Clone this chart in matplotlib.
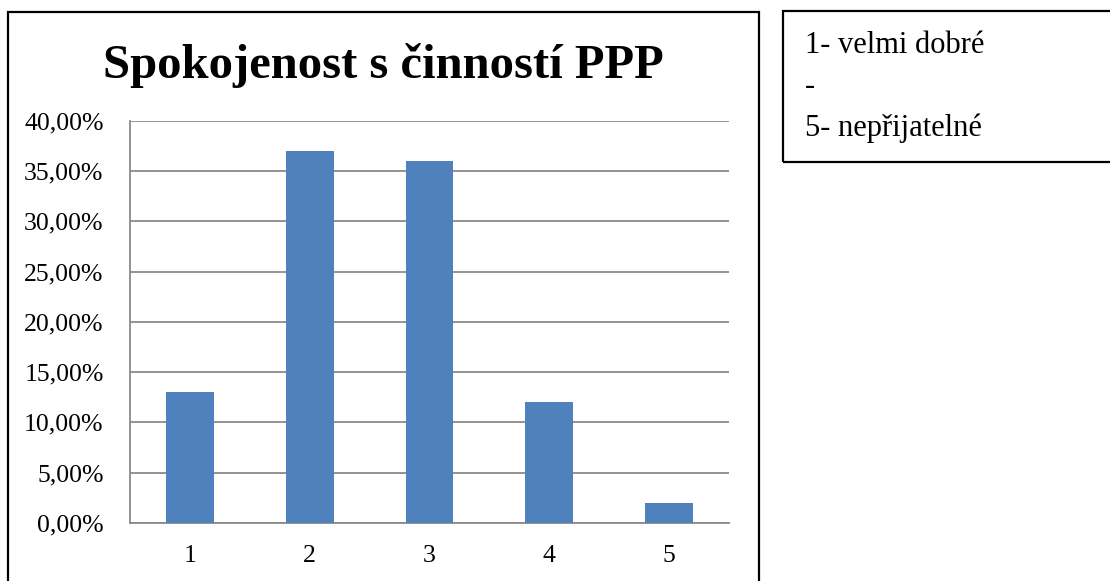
import numpy as np
import matplotlib
matplotlib.use("Agg")
import matplotlib.pyplot as plt
from matplotlib.patches import Rectangle
from matplotlib.ticker import FuncFormatter

categories = ["1", "2", "3", "4", "5"]
shares = [0.13, 0.37, 0.36, 0.12, 0.02]
title = "Spokojenost s činností PPP"
note_lines = ["1- velmi dobré", "-", "5- nepřijatelné"]

plt.rcParams["font.family"] = ["Liberation Serif", "DejaVu Serif"]

W, H = 1110, 581
fig = plt.figure(figsize=(W / 100, H / 100), dpi=100)

# plot area in pixel terms
left, right, top, bottom = 130, 729, 120.7, 523
ax = fig.add_axes([left / W, 1 - bottom / H, (right - left) / W, (bottom - top) / H])

x = np.arange(1, len(categories) + 1)
ax.bar(x, shares, width=0.4, color="#4F81BD", zorder=3)

ax.set_xlim(0.5, 5.5)
ax.set_ylim(0, 0.40)
ax.set_xticks(x)
ax.set_xticklabels(categories)
ax.set_yticks(np.arange(0, 0.401, 0.05))
ax.yaxis.set_major_formatter(FuncFormatter(lambda v, p: f"{v * 100:.2f}%".replace(".", ",")))
ax.tick_params(axis="both", length=0, labelsize=18.5, colors="black")
ax.tick_params(axis="y", pad=19)
ax.tick_params(axis="x", pad=16)

ax.yaxis.grid(True, color="#8a8a8a", linewidth=1.3, zorder=0)
ax.set_axisbelow(True)
for s in ["top", "right"]:
    ax.spines[s].set_visible(False)
for s in ["left", "bottom"]:
    ax.spines[s].set_color("#8a8a8a")
    ax.spines[s].set_linewidth(1.3)

# chart frame (runs off the bottom edge)
fig.patches.append(Rectangle((8 / W, -0.1), (759 - 8) / W, 1.1 - 12 / H,
                             transform=fig.transFigure, fill=False,
                             edgecolor="black", linewidth=1.6))
fig.text(383 / W, 1 - 78 / H, title, ha="center", va="baseline",
         fontsize=35, fontweight="bold")

# side note box
fig.patches.append(Rectangle((783 / W, 1 - 162 / H), 0.5, (162 - 11) / H,
                             transform=fig.transFigure, fill=False,
                             edgecolor="black", linewidth=1.6))
for i, line in enumerate(note_lines):
    fig.text(805 / W, 1 - (53 + 41.5 * i) / H, line, ha="left", va="baseline",
             fontsize=22)

fig.savefig("out.png", dpi=100, facecolor="white")
